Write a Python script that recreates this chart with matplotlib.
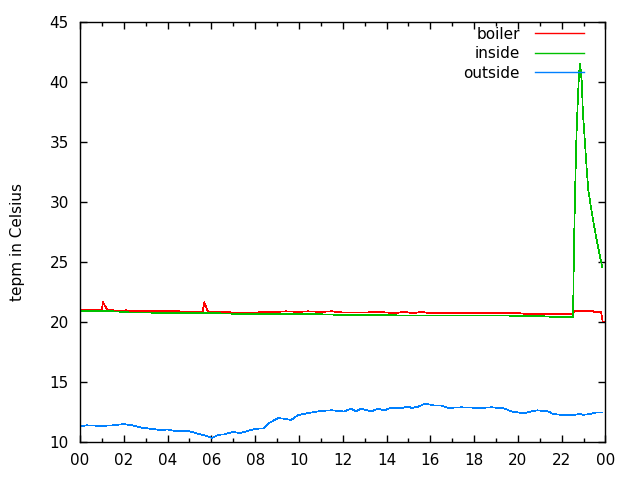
import matplotlib
matplotlib.use("Agg")
import matplotlib.pyplot as plt
from matplotlib.ticker import MultipleLocator

# hours since midnight, temperatures in Celsius
boiler_t = [0.0, 1.0, 1.05, 1.25, 2.0, 2.1, 2.3, 3.0, 3.3, 4.0, 4.5, 5.0, 5.6, 5.68, 5.85,
            6.5, 7.0, 7.5, 8.0, 8.5, 9.0, 9.4, 10.0, 10.4, 11.0, 11.5, 12.0, 13.0, 13.6,
            14.0, 14.4, 14.8, 15.2, 15.6, 16.0, 17.0, 18.0, 19.0, 20.0, 20.6, 21.0, 21.4,
            22.53, 22.57, 22.7, 23.4, 23.5, 23.8, 23.87, 23.95]
boiler_v = [20.95, 20.95, 21.6, 20.95, 20.9, 20.95, 20.85, 20.85, 20.9, 20.85, 20.85, 20.8,
            20.8, 21.6, 20.8, 20.8, 20.75, 20.7, 20.75, 20.8, 20.8, 20.85, 20.8, 20.85, 20.8,
            20.85, 20.75, 20.75, 20.8, 20.75, 20.7, 20.8, 20.7, 20.8, 20.7, 20.7, 20.7,
            20.7, 20.7, 20.6, 20.65, 20.6, 20.65, 20.83, 20.9, 20.9, 20.8, 20.8, 20.0, 20.0]

inside_t = [0.0, 1.0, 1.5, 2.0, 2.3, 3.0, 4.0, 5.0, 6.0, 7.0, 8.0, 9.0, 10.0, 11.0, 12.0,
            13.0, 15.0, 17.0, 19.5, 20.0, 21.0, 21.5, 22.53, 22.535, 22.57, 22.62, 22.68,
            22.74, 22.79, 22.84, 22.88, 22.92, 22.97, 23.06, 23.14, 23.22, 23.29, 23.44,
            23.62, 23.85]
inside_v = [20.9, 20.9, 20.85, 20.8, 20.75, 20.75, 20.7, 20.7, 20.7, 20.65, 20.65, 20.65,
            20.6, 20.6, 20.55, 20.55, 20.5, 20.5, 20.5, 20.45, 20.45, 20.4, 20.4, 22.56,
            26.9, 31.3, 35.7, 38.5, 40.6, 41.5, 40.8, 39.9, 37.4, 35.0, 32.8, 30.9, 30.1,
            28.4, 26.6, 24.55]

outside_t = [0.0, 0.3, 1.0, 1.5, 2.0, 2.4, 2.8, 3.3, 3.7, 4.0, 4.4, 5.0, 5.5, 5.9, 6.05,
             6.3, 6.6, 7.0, 7.3, 7.6, 8.0, 8.4, 8.6, 8.8, 9.05, 9.3, 9.65, 9.95, 10.5, 11.0,
             11.5, 12.05, 12.4, 12.6, 12.85, 13.3, 13.6, 13.9, 14.2, 14.7, 15.0, 15.15, 15.45,
             15.75, 16.2, 16.5, 16.8, 17.4, 18.3, 18.8, 19.4, 19.7, 20.3, 20.6, 20.9, 21.4,
             21.6, 22.0, 22.6, 22.8, 23.0, 23.3, 23.6, 23.87]
outside_v = [11.25, 11.35, 11.3, 11.35, 11.45, 11.35, 11.15, 11.05, 10.95, 11.0, 10.85,
             10.85, 10.6, 10.4, 10.3, 10.55, 10.6, 10.8, 10.7, 10.85, 11.05, 11.1, 11.5, 11.7,
             11.95, 11.9, 11.8, 12.2, 12.4, 12.55, 12.6, 12.5, 12.74, 12.5, 12.74, 12.5,
             12.74, 12.6, 12.8, 12.8, 12.9, 12.8, 12.9, 13.15, 13.0, 13.0, 12.8, 12.85, 12.8,
             12.85, 12.75, 12.5, 12.35, 12.5, 12.6, 12.5, 12.3, 12.22, 12.22, 12.3, 12.22,
             12.3, 12.42, 12.42]

hour_ticks = list(range(0, 25, 2))
hour_labels = [f"{h % 24:02d}" for h in hour_ticks]

fig = plt.figure(figsize=(6.4, 4.8), dpi=100)
ax = fig.add_axes([0.125, 0.0802, 0.821, 0.875])

# thin lines, no smoothing, like the gnuplot png terminal
line_kw = dict(lw=0.5, antialiased=False)
ax.plot(boiler_t, boiler_v, color="#ff0000", label="boiler", **line_kw)
ax.plot(inside_t, inside_v, color="#00c000", label="inside", **line_kw)
ax.plot(outside_t, outside_v, color="#0080ff", label="outside", **line_kw)

ax.set_xlim(0, 24)
ax.set_ylim(10, 45)
ax.set_xticks(hour_ticks)
ax.set_xticklabels(hour_labels)
ax.xaxis.set_minor_locator(MultipleLocator(1))
ax.yaxis.set_major_locator(MultipleLocator(5))
ax.tick_params(which="both", direction="in", top=True, right=True, labelsize=11,
               colors="black", width=1)
ax.tick_params(which="major", length=5, pad=8)
ax.tick_params(which="minor", length=3)
for s in ax.spines.values():
    s.set_linewidth(1)

ax.set_ylabel("tepm in Celsius", fontsize=11)
ax.yaxis.set_label_coords(-0.105, 0.476)

leg = ax.legend(loc="upper right", frameon=False, markerfirst=False, fontsize=11,
                handlelength=3.2, handletextpad=1.0, labelspacing=0.3,
                borderaxespad=0.0, borderpad=0.2, bbox_to_anchor=(0.965, 0.995))
for h in leg.get_lines():
    h.set_linewidth(1.0)

fig.savefig("out.png", dpi=100)
